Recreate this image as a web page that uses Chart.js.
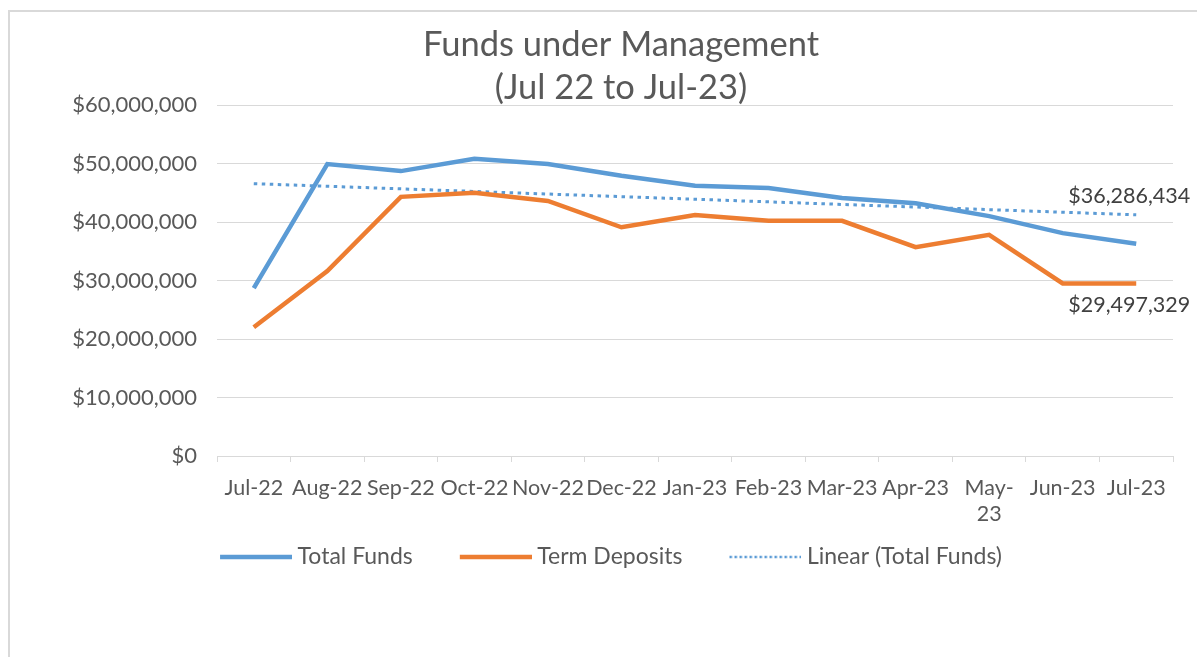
<!DOCTYPE html>
<html>
<head>
<meta charset="utf-8">
<script src="https://cdn.jsdelivr.net/npm/chart.js@4/dist/chart.umd.min.js"></script>
<style>
    html, body { margin: 0; padding: 0; background: #fff; overflow: hidden; }
    #frame {
        position: absolute; left: 8px; top: 10px;
        width: 1222px; height: 700px;
        border: 2px solid #d9d9d9;
    }
</style>
</head>
<body>
<div id="frame"><canvas id="fundsChart"></canvas></div>
<script>
// dados
const categories = ['Jul-22', 'Aug-22', 'Sep-22', 'Oct-22', 'Nov-22', 'Dec-22', 'Jan-23',
    'Feb-23', 'Mar-23', 'Apr-23', 'May-23', 'Jun-23', 'Jul-23'];
const totalFunds = [28700000, 49900000, 48700000, 50800000, 49900000, 47900000, 46200000,
    45800000, 44100000, 43200000, 41000000, 38100000, 36286434];
const termDeposits = [22000000, 31600000, 44300000, 45000000, 43600000, 39100000, 41200000,
    40200000, 40200000, 35700000, 37800000, 29500000, 29497329];
const yTicks = [0, 10000000, 20000000, 30000000, 40000000, 50000000, 60000000];

const blue = '#5b9bd5';
const orange = '#ed7d31';
const grey = '#595959';
const gridGrey = '#d9d9d9';
const fontFamily = 'Lato, "Open Sans", sans-serif';

// linha de tendência linear (mínimos quadrados), como no Excel
function linearTrend(values) {
    const n = values.length;
    let sx = 0, sy = 0, sxy = 0, sxx = 0;
    values.forEach((v, i) => { sx += i; sy += v; sxy += i * v; sxx += i * i; });
    const slope = (n * sxy - sx * sy) / (n * sxx - sx * sx);
    const icpt = (sy - slope * sx) / n;
    return values.map((v, i) => icpt + slope * i);
}

function money(v) {
    return '$' + Math.round(v).toLocaleString('en-US');
}

// marcador da legenda (linha cheia ou pontilhada)
function legendMarker(color, width, dash) {
    const c = document.createElement('canvas');
    c.width = 78;
    c.height = 8;
    const g = c.getContext('2d');
    g.strokeStyle = color;
    g.lineWidth = width;
    g.setLineDash(dash);
    g.beginPath();
    g.moveTo(6, 4);
    g.lineTo(78, 4);
    g.stroke();
    return c;
}

// rótulo no último ponto de cada série
const lastLabels = {
    id: 'lastLabels',
    afterLayout(chart) {
        // legenda um pouco à esquerda do centro, como no original
        chart.legend.left -= 10;
        chart.legend.right -= 10;
    },
    afterDatasetsDraw(chart) {
        const ctx = chart.ctx;
        ctx.save();
        ctx.font = '21.5px ' + fontFamily;
        ctx.fillStyle = '#404040';
        ctx.textAlign = 'right';
        ctx.textBaseline = 'middle';
        chart.data.datasets.forEach((ds, i) => {
            if (ds.endLabelDy === undefined) return;
            const meta = chart.getDatasetMeta(i);
            const pt = meta.data[meta.data.length - 1];
            ctx.fillText(money(ds.data[ds.data.length - 1]), pt.x + 54, pt.y + ds.endLabelDy);
        });
        ctx.restore();
    }
};

const ctx = document.getElementById('fundsChart').getContext('2d');

new Chart(ctx, {
    type: 'line',
    data: {
        labels: categories,
        datasets: [{
            label: 'Total Funds',
            data: totalFunds,
            borderColor: blue,
            backgroundColor: blue,
            borderWidth: 4.5,
            pointRadius: 0,
            pointStyle: legendMarker(blue, 4.5, []),
            tension: 0,
            endLabelDy: -48
        }, {
            label: 'Term Deposits',
            data: termDeposits,
            borderColor: orange,
            backgroundColor: orange,
            borderWidth: 4.5,
            pointRadius: 0,
            pointStyle: legendMarker(orange, 4.5, []),
            tension: 0,
            endLabelDy: 22
        }, {
            label: 'Linear (Total Funds)',
            data: linearTrend(totalFunds),
            borderColor: blue,
            backgroundColor: blue,
            borderWidth: 3,
            borderDash: [3.5, 4.5],
            pointRadius: 0,
            pointStyle: legendMarker(blue, 2.5, [2.5, 2.5]),
            tension: 0
        }]
    },
    plugins: [lastLabels],
    options: {
        responsive: true,
        maintainAspectRatio: false,
        animation: false,
        layout: { padding: { left: 0, right: 0, top: 0, bottom: 133.5 } },
        plugins: {
            title: {
                display: true,
                text: ['Funds under Management', '(Jul 22 to Jul-23)'],
                color: grey,
                font: { family: fontFamily, size: 34.5, weight: 'normal', lineHeight: 43 / 34.5 },
                padding: { top: 11.5, bottom: -4.5 }
            },
            legend: {
                position: 'bottom',
                labels: {
                    usePointStyle: true,
                    pointStyleWidth: 66,
                    padding: 47,
                    color: grey,
                    font: { family: fontFamily, size: 23 }
                }
            },
            tooltip: { enabled: false }
        },
        scales: {
            x: {
                offset: true,
                grid: {
                    offset: true,
                    drawOnChartArea: false,
                    drawTicks: true,
                    tickLength: 6,
                    color: gridGrey
                },
                border: { color: gridGrey },
                ticks: {
                    autoSkip: false,
                    maxRotation: 0,
                    padding: 13,
                    color: grey,
                    font: { family: fontFamily, size: 21.5 },
                    callback: function (value) {
                        const lab = this.getLabelForValue(value);
                        return lab === 'May-23' ? ['May-', '23'] : lab;
                    }
                },
                afterFit: s => {
                    s.height = 42.5;
                    // deixa a segunda linha de "May-23" aparecer fora da caixa do eixo
                    s._computeLabelArea = () => undefined;
                }
            },
            y: {
                min: 0,
                max: 60000000,
                afterBuildTicks: s => { s.ticks = yTicks.map(v => ({ value: v })); },
                grid: { color: gridGrey, drawTicks: false },
                border: { display: false },
                ticks: {
                    padding: 20,
                    color: grey,
                    font: { family: fontFamily, size: 22 },
                    callback: v => money(v)
                },
                afterFit: s => { s.width = 207; }
            },
            yRight: {
                position: 'right',
                display: true,
                grid: { display: false },
                border: { display: false },
                ticks: { display: false },
                afterFit: s => { s.width = 59; }
            }
        }
    }
});
</script>
</body>
</html>
